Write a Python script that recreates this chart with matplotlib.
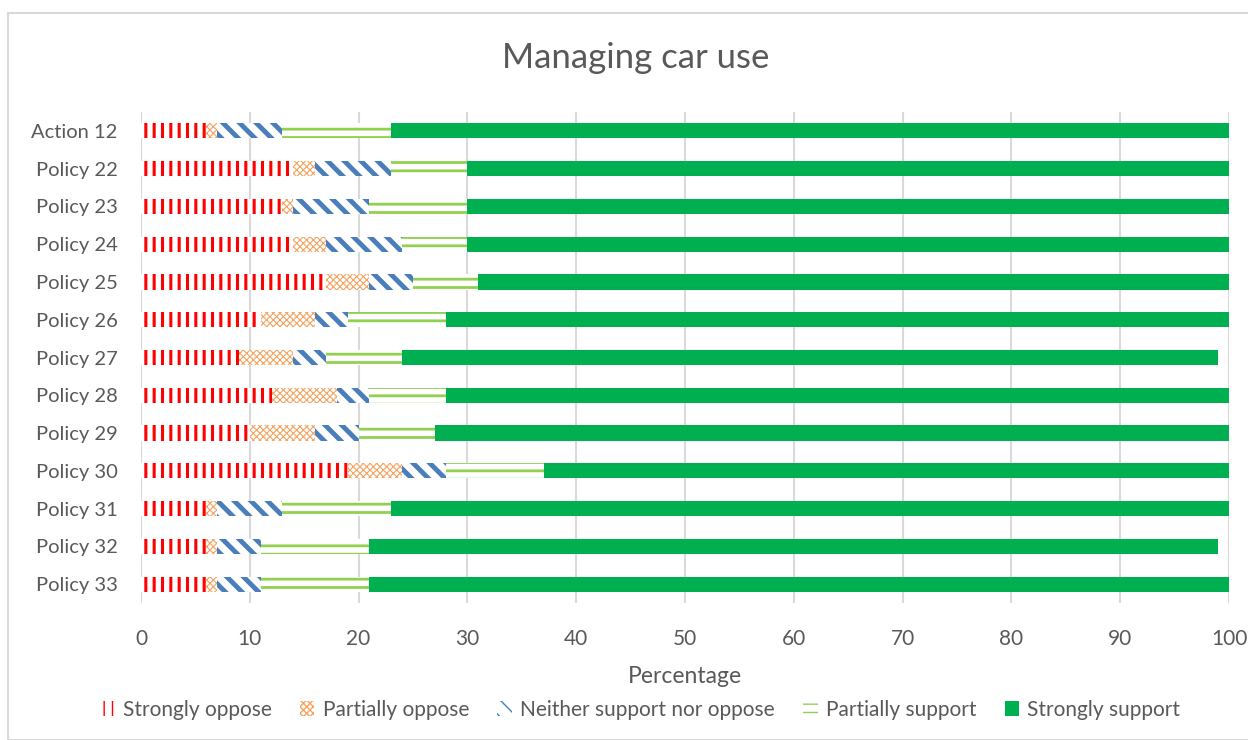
import matplotlib
matplotlib.use("Agg")
import matplotlib.pyplot as plt
import numpy as np
from matplotlib.patches import Rectangle, Patch

plt.rcParams['font.family'] = ['Lato', 'DejaVu Sans']

categories = ["Action 12", "Policy 22", "Policy 23", "Policy 24", "Policy 25", "Policy 26",
              "Policy 27", "Policy 28", "Policy 29", "Policy 30", "Policy 31", "Policy 32", "Policy 33"]
strongly_oppose = [6, 14, 13, 14, 17, 11, 9, 12, 10, 19, 6, 6, 6]
partially_oppose = [1, 2, 1, 3, 4, 5, 5, 6, 6, 5, 1, 1, 1]
neither = [6, 7, 7, 7, 4, 3, 3, 3, 4, 4, 6, 4, 4]
partially_support = [10, 7, 9, 6, 6, 9, 7, 7, 7, 9, 10, 10, 10]
strongly_support = [77, 70, 70, 70, 69, 72, 75, 72, 73, 63, 77, 78, 79]
series_names = ["Strongly oppose", "Partially oppose", "Neither support nor oppose",
                "Partially support", "Strongly support"]
xticks = [0, 10, 20, 30, 40, 50, 60, 70, 80, 90, 100]

W, H = 1248, 740
fig = plt.figure(figsize=(W / 100, H / 100), dpi=100)
ax = fig.add_axes([141 / W, 1 - 603 / H, (1229 - 141) / W, (603 - 112) / H])

text_color = "#595959"
styles = [
    dict(facecolor="white", edgecolor="#FF0000", hatch="||", hlw=2.2),
    dict(facecolor="white", edgecolor="#F4A460", hatch="xxxxx", hlw=0.8),
    dict(facecolor="white", edgecolor="#4A7EBB", hatch="\\\\", hlw=3.5),
    dict(facecolor="white", edgecolor="#92D050", hatch="--", hlw=2.0),
    dict(facecolor="#00B050", edgecolor="#00B050", hatch=None, hlw=1.0),
]
data = [strongly_oppose, partially_oppose, neither, partially_support, strongly_support]

y = np.arange(len(categories))
left = np.zeros(len(categories))
handles = []
for name, vals, st in zip(series_names, data, styles):
    vals = np.array(vals, dtype=float)
    bars = ax.barh(y, vals, left=left, height=0.4, facecolor=st["facecolor"],
                   edgecolor=st["edgecolor"], linewidth=0, hatch=st["hatch"], zorder=3)
    for b in bars:
        try:
            b.set_hatch_linewidth(st["hlw"])
        except Exception:
            pass
    left += vals
    h = Patch(facecolor=st["facecolor"], edgecolor=st["edgecolor"], linewidth=0,
              hatch=st["hatch"], label=name)
    try:
        h.set_hatch_linewidth(st["hlw"])
    except Exception:
        pass
    handles.append(h)

ax.set_ylim(len(categories) - 0.5, -0.5)
ax.set_xlim(0, 100)
ax.set_xticks(xticks)
ax.set_yticks(y)
ax.set_yticklabels(categories)
ax.tick_params(axis='x', length=0, labelsize=15, colors=text_color, pad=19)
ax.tick_params(axis='y', length=0, labelsize=14.5, colors=text_color, pad=17)
for s in ax.spines.values():
    s.set_visible(False)
ax.grid(axis='x', color="#D9D9D9", linewidth=1.5, zorder=0)
ax.set_axisbelow(True)

ax.set_xlabel("Percentage", fontsize=16.5, color=text_color, labelpad=12)
fig.text(0.509, 1 - 58 / H, "Managing car use", ha="center", va="center",
         fontsize=25, color=text_color)

leg = fig.legend(handles=handles, loc="center", bbox_to_anchor=(0.513, 1 - 710 / H),
                 ncol=5, frameon=False, fontsize=15, handlelength=0.7, handleheight=0.7,
                 handletextpad=0.4, columnspacing=1.35, labelcolor=text_color)

fig.patches.append(Rectangle((8 / W, 0), 1.0, 1 - 13 / H, transform=fig.transFigure,
                             fill=False, edgecolor="#D9D9D9", linewidth=1.5))

fig.savefig("out.png", dpi=100)
